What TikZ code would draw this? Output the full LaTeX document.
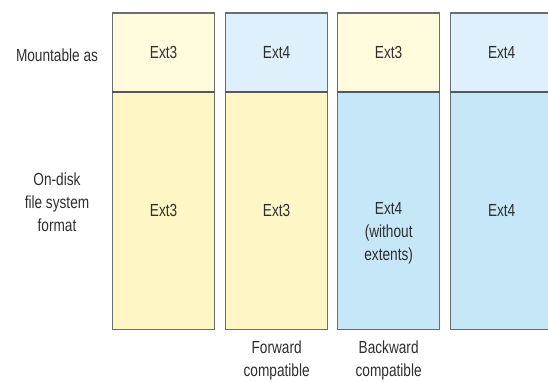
\documentclass[tikz,border=0pt]{standalone}
\usepackage{fontspec}
\setmainfont[FakeStretch=0.78]{Liberation Sans}
\usetikzlibrary{calc}
\definecolor{ytop}{HTML}{FFFBDC}
\definecolor{ybot}{HTML}{FFF6C6}
\definecolor{btop}{HTML}{DEF0FB}
\definecolor{bbot}{HTML}{C6E7F8}
\definecolor{edge}{HTML}{6A6E70}
\definecolor{txtc}{HTML}{2E2E2E}
\begin{document}
\begin{tikzpicture}[x=1pt,y=-1pt,
  txt/.style={text=txtc,font=\fontsize{17.5}{23}\selectfont,align=center,inner sep=0pt},
  topcell/.style={txt,draw=edge,line width=1.3pt,minimum width=102pt,minimum height=78.5pt,anchor=north west},
  botcell/.style={txt,draw=edge,line width=1.3pt,minimum width=102pt,minimum height=238pt,anchor=north west},
  divider/.style={draw=edge!80!black,line width=2.2pt}]
\useasboundingbox (0,0) rectangle (548,382);
\begin{scope}
\clip (0,0) rectangle (548,382);
% column 1
\node[topcell,fill=ytop] (m1) at (112,12.5) {Ext3};
\node[botcell,fill=ybot] (d1) at (112,91) {Ext3};
% column 2
\node[topcell,fill=btop] (m2) at (225,12.5) {Ext4};
\node[botcell,fill=ybot] (d2) at (225,91) {Ext3};
% column 3
\node[topcell,fill=ytop] (m3) at (337,12.5) {Ext3};
\node[botcell,fill=bbot] (d3) at (337,91) {};
\node[txt] (d3t) at ($(d3.center)+(0,23)$) {Ext4\\(without\\extents)};
% column 4
\node[topcell,fill=btop] (m4) at (450,12.5) {Ext4};
\node[botcell,fill=bbot] (d4) at (450,91) {Ext4};
% dividers
\foreach \i in {1,2,3,4}{\draw[divider] (m\i.south west) -- (m\i.south east);}
\end{scope}
% row labels
\node[txt] (lm) at (57,55) {Mountable as};
\node[txt] (ld) at (57,202) {On-disk\\file system\\format};
% column labels
\node[txt] (fw) at ($(d2.south)+(0,30)$) {Forward\\compatible};
\node[txt] (bw) at ($(d3.south)+(0,30)$) {Backward\\compatible};
\end{tikzpicture}
\end{document}
